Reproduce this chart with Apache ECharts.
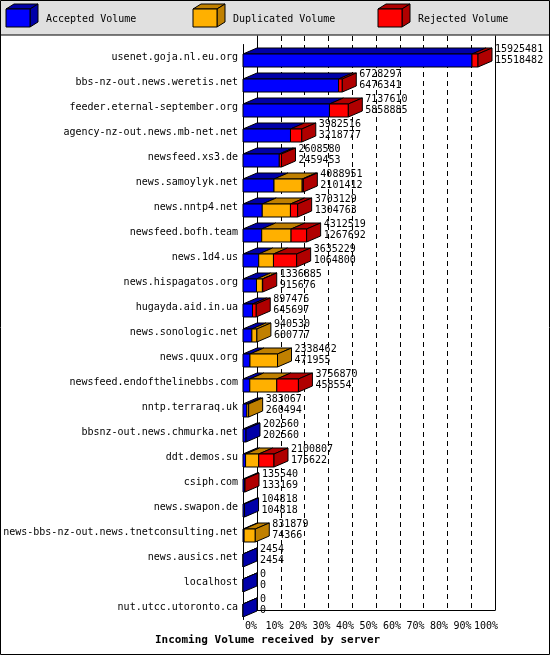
<!DOCTYPE html>
<html>
<head>
<meta charset="utf-8">
<script src="https://cdn.jsdelivr.net/npm/echarts@6/dist/echarts.min.js"></script>
<style>
  body { margin: 0; background: #fff; }
  #chart { width: 550px; height: 655px; }
</style>
</head>
<body>
<div id="chart"></div>
<script>
// Servers, offered and accepted volumes as printed on the chart
const servers = [
  "usenet.goja.nl.eu.org", "bbs-nz-out.news.weretis.net", "feeder.eternal-september.org",
  "agency-nz-out.news.mb-net.net", "newsfeed.xs3.de", "news.samoylyk.net", "news.nntp4.net",
  "newsfeed.bofh.team", "news.1d4.us", "news.hispagatos.org", "hugayda.aid.in.ua",
  "news.sonologic.net", "news.quux.org", "newsfeed.endofthelinebbs.com", "nntp.terraraq.uk",
  "bbsnz-out.news.chmurka.net", "ddt.demos.su", "csiph.com", "news.swapon.de",
  "news-bbs-nz-out.news.tnetconsulting.net", "news.ausics.net", "localhost", "nut.utcc.utoronto.ca"
];
const offered = [15925481, 6728297, 7137610, 3982516, 2608580, 4088951, 3703129, 4312519,
  3635229, 1336885, 897476, 940530, 2338462, 3756870, 383067, 202560, 2100807, 135540,
  104818, 831879, 2454, 0, 0];
const accepted = [15518482, 6476341, 5858885, 3218777, 2459453, 2101412, 1304763, 1267692,
  1064800, 915676, 645697, 600777, 471955, 458554, 260494, 202560, 175622, 133169,
  104818, 74366, 2454, 0, 0];
// duplicated volume
const duplicated = [0, 0, 0, 0, 0, 1910000, 1910000, 1990000, 1000000, 400000, 0, 339753,
  1866507, 1830000, 122573, 0, 890000, 0, 0, 757513, 0, 0, 0];

const maxVol = Math.max(...offered);
const colors = {
  acc: { front: "#0000ff", dark: "#0000a8" },
  dup: { front: "#ffb000", dark: "#c08000" },
  rej: { front: "#ff0000", dark: "#b00000" }
};
const segs = [];
servers.forEach((s, i) => {
  const a = accepted[i] / maxVol * 100;
  const d = duplicated[i] / maxVol * 100;
  const r = Math.max(0, offered[i] - accepted[i] - duplicated[i]) / maxVol * 100;
  const parts = [["acc", a], ["dup", d], ["rej", r]].filter(p => p[1] > 0);
  if (!parts.length) parts.push(["acc", 0]);
  let x = 0;
  parts.forEach((p, k) => {
    segs.push({ value: [x, x + p[1], i, k === parts.length - 1 ? 1 : 0], kind: p[0] });
    x += p[1];
  });
});

const DX = 14, DY = 6, H = 13;
const font = "DejaVu Sans Mono";

function renderItem(params, api) {
  const seg = segs[params.dataIndex];
  const p0 = api.coord([api.value(0), api.value(2)]);
  const p1 = api.coord([api.value(1), api.value(2)]);
  const c = colors[seg.kind];
  const x0 = p0[0], x1 = p1[0], yTop = p0[1] - 3, yBot = yTop + H;
  const line = { stroke: "#000", lineWidth: 1 };
  const children = [
    { type: "polygon", shape: { points: [[x0, yTop], [x0 + DX, yTop - DY], [x1 + DX, yTop - DY], [x1, yTop]] },
      style: Object.assign({ fill: c.dark }, line) },
    { type: "rect", shape: { x: x0, y: yTop, width: x1 - x0, height: H },
      style: Object.assign({ fill: c.front }, line) }
  ];
  if (api.value(3)) {
    const i = api.value(2);
    children.push(
      { type: "polygon", shape: { points: [[x1, yTop], [x1 + DX, yTop - DY], [x1 + DX, yBot - DY], [x1, yBot]] },
        style: Object.assign({ fill: c.dark }, line) },
      { type: "text", x: x1 + DX + 3, y: yTop - 10,
        style: { text: offered[i] + "\n" + accepted[i], font: "10px '" + font + "'", fill: "#000", lineHeight: 11 } }
    );
  }
  return { type: "group", children: children };
}

function legendBox(x, c, label) {
  return [
    { type: "polygon", shape: { points: [[x, 9], [x + 8, 4], [x + 32, 4], [x + 24, 9]] }, style: { fill: c.dark, stroke: "#000" } },
    { type: "polygon", shape: { points: [[x + 24, 9], [x + 32, 4], [x + 32, 22], [x + 24, 27]] }, style: { fill: c.dark, stroke: "#000" } },
    { type: "rect", shape: { x: x, y: 9, width: 24, height: 18 }, style: { fill: c.front, stroke: "#000" } },
    { type: "text", x: x + 40, y: 14, style: { text: label, font: "10px '" + font + "'", fill: "#000" } }
  ];
}

const chart = echarts.init(document.getElementById("chart"));
chart.setOption({
  animation: false,
  backgroundColor: "#fff",
  graphic: [
    { type: "rect", shape: { x: 0, y: 0, width: 550, height: 35 }, style: { fill: "#e0e0e0" } },
    { type: "line", shape: { x1: 0, y1: 35, x2: 550, y2: 35 }, style: { stroke: "#000" } },
    { type: "rect", shape: { x: 0.5, y: 0.5, width: 549, height: 654 }, style: { fill: null, stroke: "#000" } },
    ...legendBox(6, colors.acc, "Accepted Volume"),
    ...legendBox(193, colors.dup, "Duplicated Volume"),
    ...legendBox(378, colors.rej, "Rejected Volume"),
    { type: "text", x: 155, y: 635, style: { text: "Incoming Volume received by server",
      font: "bold 11px '" + font + "'", fill: "#000" } }
  ],
  grid: [
    { left: 243, right: 72, top: 44.5, bottom: 35.5, containLabel: false, outerBoundsMode: "none" },
    { left: 257, right: 55, top: 36, bottom: 45, containLabel: false, outerBoundsMode: "none" }
  ],
  xAxis: [
    { gridIndex: 0, type: "value", min: 0, max: 100, interval: 10,
      axisLine: { show: false }, axisTick: { show: false }, splitLine: { show: false },
      axisLabel: { formatter: "{value}%", margin: 2, padding: [0, 0, 0, 16], color: "#000",
        fontFamily: font, fontSize: 10, showMinLabel: true, showMaxLabel: true, hideOverlap: false } },
    { gridIndex: 1, type: "value", min: 0, max: 100, interval: 10,
      axisLine: { show: true, lineStyle: { color: "#000" } }, axisTick: { show: false },
      axisLabel: { show: false },
      splitLine: { show: true, lineStyle: { color: "#000", type: [5, 4] } } }
  ],
  yAxis: [
    { gridIndex: 0, type: "category", data: servers, inverse: true,
      axisLine: { show: true, lineStyle: { color: "#000" } }, axisTick: { show: false },
      axisLabel: { color: "#000", fontFamily: font, fontSize: 10, margin: 5, interval: 0 } },
    { gridIndex: 1, type: "value", position: "left",
      axisLine: { show: true, lineStyle: { color: "#000" } }, axisTick: { show: false },
      axisLabel: { show: false }, splitLine: { show: false } },
    { gridIndex: 1, type: "value", position: "right",
      axisLine: { show: true, lineStyle: { color: "#000" } }, axisTick: { show: false },
      axisLabel: { show: false }, splitLine: { show: false } }
  ],
  series: [
    { type: "custom", xAxisIndex: 0, yAxisIndex: 0, renderItem: renderItem,
      encode: { x: [0, 1], y: 2 }, data: segs.map(s => s.value), z: 5 }
  ]
});
</script>
</body>
</html>
